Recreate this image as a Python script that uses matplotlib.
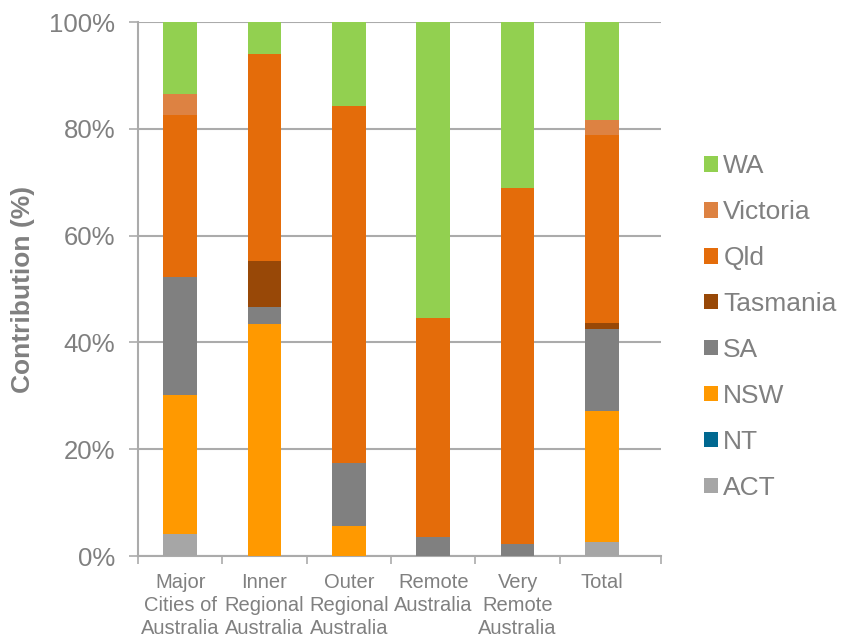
import matplotlib
matplotlib.use("Agg")
import matplotlib.pyplot as plt
import numpy as np
from matplotlib.ticker import FixedLocator, PercentFormatter

plt.rcParams['font.family'] = ['Liberation Sans', 'DejaVu Sans']

categories = ["Major\nCities of\nAustralia", "Inner\nRegional\nAustralia",
              "Outer\nRegional\nAustralia", "Remote\nAustralia",
              "Very\nRemote\nAustralia", "Total"]

# Contribution (%) of each state/territory, stacked from the bottom up
act = [4.2, 0.0, 0.0, 0.0, 0.0, 2.6]
nt = [0.0, 0.0, 0.0, 0.0, 0.0, 0.0]
nsw = [25.9, 43.4, 5.7, 0.0, 0.0, 24.6]
sa = [22.2, 3.2, 11.8, 3.5, 2.2, 15.3]
tas = [0.0, 8.7, 0.0, 0.0, 0.0, 1.2]
qld = [30.3, 38.7, 66.8, 41.0, 66.8, 35.1]
vic = [3.9, 0.0, 0.0, 0.0, 0.0, 2.8]
wa = [13.5, 6.0, 15.7, 55.5, 31.0, 18.4]

series = [
    ("ACT", act, "#A6A6A6"),
    ("NT", nt, "#006890"),
    ("NSW", nsw, "#FF9900"),
    ("SA", sa, "#808080"),
    ("Tasmania", tas, "#984807"),
    ("Qld", qld, "#E46C0A"),
    ("Victoria", vic, "#DD8242"),
    ("WA", wa, "#92D050"),
]

grey_text = "#808080"
grid_col = "#ABABAB"

fig = plt.figure(figsize=(8.42, 6.40), dpi=100)
ax = fig.add_axes([138 / 842, 1 - 556 / 640, (661 - 138) / 842, (556 - 22) / 640])

x = np.arange(len(categories))
bottom = np.zeros(len(categories))
handles = []
for name, vals, col in series:
    vals = np.array(vals)
    b = ax.bar(x, vals, width=0.40, bottom=bottom, color=col, label=name,
               edgecolor="none", zorder=3)
    handles.append(b)
    bottom += vals

ax.set_xlim(-0.5, 5.70)
ax.set_ylim(0, 100)

ax.yaxis.set_major_locator(FixedLocator([0, 20, 40, 60, 80, 100]))
ax.yaxis.set_major_formatter(PercentFormatter(decimals=0))
ax.grid(axis="y", color=grid_col, linewidth=1.5, zorder=0)
ax.set_axisbelow(True)

ax.set_xticks(x)
ax.set_xticklabels(categories, fontsize=14.5, color=grey_text, linespacing=1.27)
ax.xaxis.set_minor_locator(FixedLocator([-0.5, 0.5, 1.5, 2.5, 3.5, 4.5, 5.70]))
ax.tick_params(axis="x", which="major", length=0, pad=12)
ax.tick_params(axis="x", which="minor", length=5.5, width=1.2, color=grid_col)
ax.tick_params(axis="y", length=6.5, width=1.2, color=grid_col,
               labelsize=18.5, labelcolor=grey_text, pad=10)

for s in ("top", "right"):
    ax.spines[s].set_visible(False)
for s in ("left", "bottom"):
    ax.spines[s].set_color(grid_col)
    ax.spines[s].set_linewidth(1.5)

fig.text(23 / 842, 1 - 289 / 640, "Contribution (%)", rotation=90,
         ha="center", va="center", fontsize=19, fontweight="bold", color=grey_text)

leg = fig.legend(handles[::-1], [s[0] for s in series][::-1],
                 loc="center left", bbox_to_anchor=(704 / 842, 1 - 327 / 640),
                 frameon=False, fontsize=19, handlelength=0.53, handleheight=0.53,
                 handletextpad=0.2, labelspacing=0.83, borderpad=0, borderaxespad=0,
                 labelcolor=grey_text)

fig.savefig("out.png", dpi=100)
